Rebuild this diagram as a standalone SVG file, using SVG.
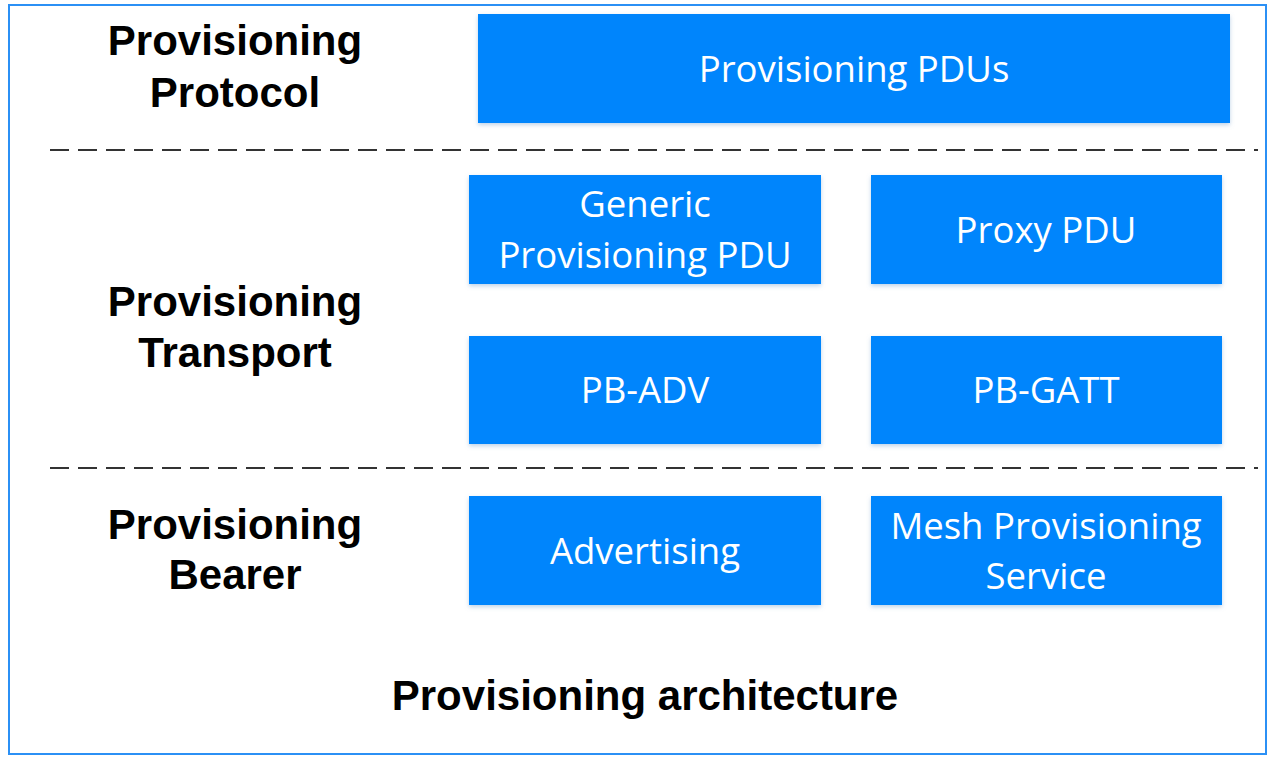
<svg xmlns="http://www.w3.org/2000/svg" width="1273" height="757" viewBox="0 0 1273 757">
<style>
.frame{fill:#fff;stroke:#2b90f5;stroke-width:2}
.box{fill:#0385fc;filter:url(#sh)}
.bt{fill:#fff;font-family:"Open Sans","Noto Sans",sans-serif;font-size:36.5px;text-anchor:middle}
.lbl{fill:#000;font-family:"Liberation Sans",Arial,sans-serif;font-weight:bold;font-size:42px;text-anchor:middle}
.dash{stroke:#333;stroke-width:2;stroke-dasharray:19 9;fill:none}
</style>
<defs>
<filter id="sh" x="-5%" y="-10%" width="110%" height="130%">
<feDropShadow dx="0" dy="2" stdDeviation="2" flood-color="#7fa8d0" flood-opacity="0.5"/>
</filter>
</defs>
<rect class="frame" x="9" y="5" width="1257" height="749"/>
<g id="connectors">
<line class="dash" x1="50" y1="150" x2="1258" y2="150"/>
<line class="dash" x1="50" y1="468" x2="1258" y2="468"/>
</g>
<g id="label-protocol"><text class="lbl" x="235" y="55">Provisioning</text><text class="lbl" x="235" y="107">Protocol</text></g>
<g id="label-transport"><text class="lbl" x="235" y="316">Provisioning</text><text class="lbl" x="235" y="367">Transport</text></g>
<g id="label-bearer"><text class="lbl" x="235" y="539">Provisioning</text><text class="lbl" x="235" y="589">Bearer</text></g>
<g id="node-pdus"><rect class="box" x="478" y="14" width="752" height="109"/><text class="bt" x="854" y="82">Provisioning PDUs</text></g>
<g id="node-generic"><rect class="box" x="469" y="175" width="352" height="109"/><text class="bt" x="645" y="217">Generic</text><text class="bt" x="645" y="268">Provisioning PDU</text></g>
<g id="node-proxy"><rect class="box" x="871" y="175" width="351" height="109"/><text class="bt" x="1046" y="243">Proxy PDU</text></g>
<g id="node-pbadv"><rect class="box" x="469" y="336" width="352" height="108"/><text class="bt" x="645" y="403">PB-ADV</text></g>
<g id="node-pbgatt"><rect class="box" x="871" y="336" width="351" height="108"/><text class="bt" x="1046" y="403">PB-GATT</text></g>
<g id="node-adv"><rect class="box" x="469" y="496" width="352" height="109"/><text class="bt" x="645" y="564">Advertising</text></g>
<g id="node-mesh"><rect class="box" x="871" y="496" width="351" height="109"/><text class="bt" x="1046" y="539">Mesh Provisioning</text><text class="bt" x="1046" y="589">Service</text></g>
<text class="lbl" x="645" y="710">Provisioning architecture</text>
</svg>
